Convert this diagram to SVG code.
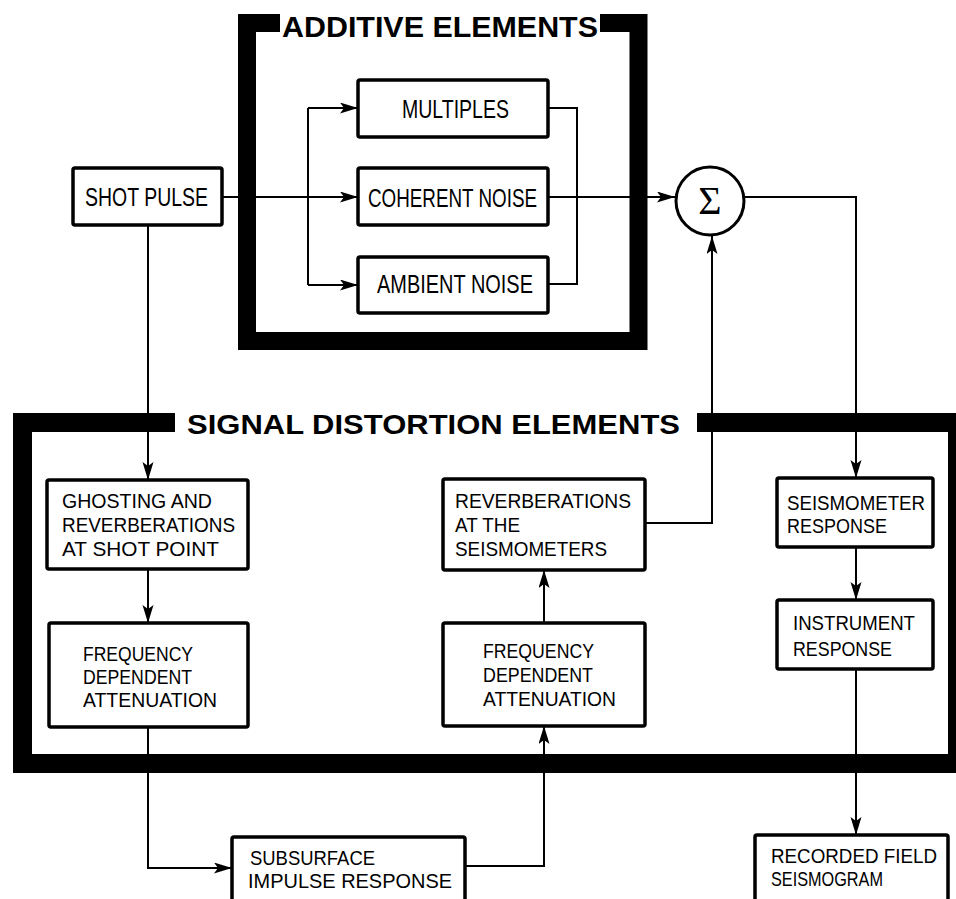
<svg xmlns="http://www.w3.org/2000/svg" width="956" height="899" viewBox="0 0 956 899">
<style>
.frame{fill:none;stroke:#000;stroke-linejoin:miter;stroke-linecap:butt}
.box{fill:#fff;stroke:#000;stroke-width:3.5}
.c{fill:none;stroke:#000;stroke-width:2}
.t{font-family:"Liberation Sans",Arial,sans-serif;fill:#000}
.tl{font-size:25px}
.ts{font-size:21px}
.title{font-family:"Liberation Sans",Arial,sans-serif;font-weight:bold;fill:#000}
</style>
<defs>
<marker id="ah" markerUnits="userSpaceOnUse" markerWidth="20" markerHeight="12" refX="18" refY="5.5" orient="auto">
<path d="M0,0 L18,5.5 L0,11 L4,5.5 z" fill="#000"/>
</marker>
</defs>
<rect width="956" height="899" fill="#fff"/>

<g id="additive-frame">
<path class="frame" stroke-width="18" d="M280,23 H247 V341 H638.5 V23 H600"/>
<text class="title" x="282" y="37" font-size="30" textLength="316" lengthAdjust="spacingAndGlyphs">ADDITIVE ELEMENTS</text>
</g>

<g id="signal-frame">
<path class="frame" stroke-width="19" d="M175,422.5 H22.5 V763.5 H957.5 V422.5 H697"/>
<text class="title" x="187" y="434" font-size="28" textLength="493" lengthAdjust="spacingAndGlyphs">SIGNAL DISTORTION ELEMENTS</text>
</g>

<g id="connectors">
<line class="c" x1="222" y1="197" x2="358" y2="197" marker-end="url(#ah)"/>
<line class="c" x1="308" y1="108" x2="308" y2="285"/>
<line class="c" x1="308" y1="108" x2="358" y2="108" marker-end="url(#ah)"/>
<line class="c" x1="308" y1="285" x2="358" y2="285" marker-end="url(#ah)"/>
<polyline class="c" points="548,108 577,108 577,284 548,284"/>
<line class="c" x1="548" y1="197" x2="675" y2="197" marker-end="url(#ah)"/>
<polyline class="c" points="745,197 856,197 856,478" marker-end="url(#ah)"/>
<line class="c" x1="148" y1="225" x2="148" y2="480" marker-end="url(#ah)"/>
<line class="c" x1="148" y1="569" x2="148" y2="623" marker-end="url(#ah)"/>
<polyline class="c" points="148,727 148,868 232,868" marker-end="url(#ah)"/>
<polyline class="c" points="465,866 544,866 544,726" marker-end="url(#ah)"/>
<line class="c" x1="544" y1="623" x2="544" y2="570" marker-end="url(#ah)"/>
<polyline class="c" points="645,523 712,523 712,236" marker-end="url(#ah)"/>
<line class="c" x1="856" y1="547" x2="856" y2="600" marker-end="url(#ah)"/>
<line class="c" x1="856" y1="669" x2="856" y2="835" marker-end="url(#ah)"/>
</g>

<g id="shot-pulse">
<rect class="box" x="73" y="168" width="149" height="57" rx="2"/>
<text class="t tl" x="85" y="206" textLength="123" lengthAdjust="spacingAndGlyphs">SHOT PULSE</text>
</g>

<g id="multiples">
<rect class="box" x="358" y="80" width="190" height="57" rx="2"/>
<text class="t tl" x="402" y="118" textLength="107" lengthAdjust="spacingAndGlyphs">MULTIPLES</text>
</g>

<g id="coherent-noise">
<rect class="box" x="358" y="168" width="190" height="57" rx="2"/>
<text class="t tl" x="368" y="207" textLength="169" lengthAdjust="spacingAndGlyphs">COHERENT NOISE</text>
</g>

<g id="ambient-noise">
<rect class="box" x="358" y="257" width="190" height="56" rx="2"/>
<text class="t tl" x="377" y="293" textLength="156" lengthAdjust="spacingAndGlyphs">AMBIENT NOISE</text>
</g>

<g id="sum">
<circle cx="710" cy="201" r="34" fill="#fff" stroke="#000" stroke-width="3"/>
<text x="710" y="214" font-family="'Liberation Serif','Times New Roman',serif" font-size="40" text-anchor="middle">Σ</text>
</g>

<g id="ghosting">
<rect class="box" x="47" y="480" width="201" height="89" rx="2"/>
<text class="t ts" x="62" y="508" textLength="150" lengthAdjust="spacingAndGlyphs">GHOSTING AND</text>
<text class="t ts" x="62" y="532" textLength="173" lengthAdjust="spacingAndGlyphs">REVERBERATIONS</text>
<text class="t ts" x="62" y="556" textLength="157" lengthAdjust="spacingAndGlyphs">AT SHOT POINT</text>
</g>

<g id="freq-atten-1">
<rect class="box" x="49" y="623" width="199" height="104" rx="2"/>
<text class="t ts" x="83" y="661" textLength="110" lengthAdjust="spacingAndGlyphs">FREQUENCY</text>
<text class="t ts" x="83" y="684" textLength="109" lengthAdjust="spacingAndGlyphs">DEPENDENT</text>
<text class="t ts" x="83" y="707" textLength="134" lengthAdjust="spacingAndGlyphs">ATTENUATION</text>
</g>

<g id="reverb-seis">
<rect class="box" x="443" y="479" width="202" height="91" rx="2"/>
<text class="t ts" x="455" y="508" textLength="176" lengthAdjust="spacingAndGlyphs">REVERBERATIONS</text>
<text class="t ts" x="455" y="532" textLength="65" lengthAdjust="spacingAndGlyphs">AT THE</text>
<text class="t ts" x="455" y="556" textLength="152" lengthAdjust="spacingAndGlyphs">SEISMOMETERS</text>
</g>

<g id="freq-atten-2">
<rect class="box" x="443" y="623" width="202" height="103" rx="2"/>
<text class="t ts" x="483" y="658" textLength="111" lengthAdjust="spacingAndGlyphs">FREQUENCY</text>
<text class="t ts" x="483" y="682" textLength="110" lengthAdjust="spacingAndGlyphs">DEPENDENT</text>
<text class="t ts" x="483" y="706" textLength="133" lengthAdjust="spacingAndGlyphs">ATTENUATION</text>
</g>

<g id="seismometer">
<rect class="box" x="777" y="478" width="156" height="69" rx="2"/>
<text class="t ts" x="787" y="510" textLength="138" lengthAdjust="spacingAndGlyphs">SEISMOMETER</text>
<text class="t ts" x="787" y="533" textLength="100" lengthAdjust="spacingAndGlyphs">RESPONSE</text>
</g>

<g id="instrument">
<rect class="box" x="777" y="600" width="156" height="69" rx="2"/>
<text class="t ts" x="793" y="630" textLength="122" lengthAdjust="spacingAndGlyphs">INSTRUMENT</text>
<text class="t ts" x="793" y="656" textLength="99" lengthAdjust="spacingAndGlyphs">RESPONSE</text>
</g>

<g id="subsurface">
<rect class="box" x="232" y="837" width="233" height="75" rx="2"/>
<text class="t ts" x="250" y="865" textLength="125" lengthAdjust="spacingAndGlyphs">SUBSURFACE</text>
<text class="t ts" x="248" y="888" textLength="204" lengthAdjust="spacingAndGlyphs">IMPULSE RESPONSE</text>
</g>

<g id="recorded">
<rect class="box" x="755" y="835" width="193" height="75" rx="2"/>
<text class="t ts" x="771" y="863" textLength="166" lengthAdjust="spacingAndGlyphs">RECORDED FIELD</text>
<text class="t ts" x="771" y="886" textLength="112" lengthAdjust="spacingAndGlyphs">SEISMOGRAM</text>
</g>
</svg>
